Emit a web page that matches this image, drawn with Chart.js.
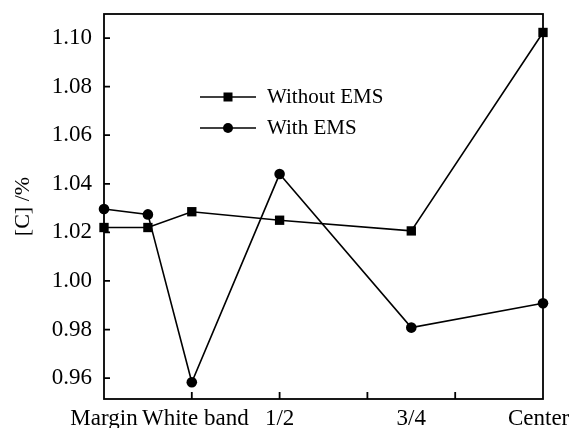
<!DOCTYPE html>
<html>
<head>
<meta charset="utf-8">
<script src="https://cdn.jsdelivr.net/npm/chart.js@4.4.1/dist/chart.umd.min.js"></script>
<style>
    html, body { margin: 0; padding: 0; background: #fff; }
    #wrap { width: 572px; height: 428px; }
</style>
</head>
<body>
<div id="wrap"><canvas id="chart"></canvas></div>
<script>
// Data
const positions = [0, 0.5, 1, 2, 3.5, 5];
const withoutEMS = [1.022, 1.022, 1.0285, 1.025, 1.0206, 1.1023];
const withEMS = [1.0296, 1.0274, 0.9583, 1.044, 0.9808, 0.9908];
const xLabelPositions = [0, 1.04, 2, 3.5, 4.95];
const xLabels = ['Margin', 'White band', '1/2', '3/4', 'Center'];
const xTickMarks = [1, 2, 3, 4];
const yTicks = [0.96, 0.98, 1.00, 1.02, 1.04, 1.06, 1.08, 1.10];

const FONT = { family: '"Liberation Serif", "Times New Roman", serif', size: 21 };
const TICK_FONT = { family: FONT.family, size: 23 };
const TITLE_FONT = { family: FONT.family, size: 22 };

function toPoints(values) {
    return values.map((v, i) => ({ x: positions[i], y: v }));
}

// frame, inward ticks and legend drawn on top
const framePlugin = {
    id: 'frame',
    afterDraw(chart) {
        const { ctx, chartArea: a, scales } = chart;
        ctx.save();
        ctx.strokeStyle = '#000';
        ctx.lineWidth = 1.8;
        ctx.strokeRect(a.left, a.top, a.right - a.left, a.bottom - a.top);

        ctx.beginPath();
        yTicks.forEach(v => {
            const y = scales.y.getPixelForValue(v);
            ctx.moveTo(a.left, y);
            ctx.lineTo(a.left + 6, y);
        });
        xTickMarks.forEach(v => {
            const x = scales.x.getPixelForValue(v);
            ctx.moveTo(x, a.bottom);
            ctx.lineTo(x, a.bottom - 7);
        });
        ctx.stroke();

        // legend
        const lx = 200, lw = 56, ly = 97, gap = 31;
        ctx.font = FONT.size + 'px ' + FONT.family;
        ctx.fillStyle = '#000';
        ctx.textBaseline = 'middle';
        chart.data.datasets.forEach((ds, i) => {
            const y = ly + i * gap;
            ctx.beginPath();
            ctx.lineWidth = 1.6;
            ctx.moveTo(lx, y);
            ctx.lineTo(lx + lw, y);
            ctx.stroke();
            const cx = lx + lw / 2;
            ctx.beginPath();
            if (ds.pointStyle === 'rect') {
                ctx.fillRect(cx - 4.5, y - 4.5, 9, 9);
            } else {
                ctx.arc(cx, y, 5, 0, Math.PI * 2);
                ctx.fill();
            }
            ctx.fillText(ds.label, lx + lw + 11, y);
        });
        ctx.restore();
    }
};

const ctx = document.getElementById('chart').getContext('2d');
new Chart(ctx, {
    type: 'line',
    data: {
        datasets: [
            {
                label: 'Without EMS',
                data: toPoints(withoutEMS),
                borderColor: '#000',
                backgroundColor: '#000',
                borderWidth: 1.6,
                pointStyle: 'rect',
                pointRadius: 6.6,
                pointBorderWidth: 0,
                tension: 0,
                clip: false
            },
            {
                label: 'With EMS',
                data: toPoints(withEMS),
                borderColor: '#000',
                backgroundColor: '#000',
                borderWidth: 1.6,
                pointStyle: 'circle',
                pointRadius: 5.3,
                pointBorderWidth: 0,
                tension: 0,
                clip: false
            }
        ]
    },
    options: {
        responsive: true,
        maintainAspectRatio: false,
        animation: false,
        layout: { padding: { left: 0, top: 14, right: 29, bottom: 0 } },
        plugins: {
            legend: { display: false },
            tooltip: { enabled: false }
        },
        scales: {
            x: {
                type: 'linear',
                min: 0,
                max: 5,
                grid: { display: false, drawTicks: false },
                border: { display: false },
                afterBuildTicks: scale => {
                    scale.ticks = xLabelPositions.map(v => ({ value: v }));
                },
                afterFit: scale => {
                    scale.height = 29;
                    scale.paddingLeft = 0;
                    scale.paddingRight = 0;
                },
                ticks: {
                    color: '#000',
                    font: TICK_FONT,
                    padding: 6,
                    autoSkip: false,
                    maxRotation: 0,
                    callback: value => {
                        const i = xLabelPositions.indexOf(value);
                        return i >= 0 ? xLabels[i] : '';
                    }
                }
            },
            y: {
                min: 0.9514,
                max: 1.1099,
                grid: { display: false, drawTicks: false },
                border: { display: false },
                afterBuildTicks: scale => {
                    scale.ticks = yTicks.map(v => ({ value: v }));
                },
                afterFit: scale => {
                    scale.width = 104;
                    scale.paddingTop = 0;
                    scale.paddingBottom = 0;
                },
                title: {
                    display: true,
                    text: '[C] /%',
                    color: '#000',
                    font: TITLE_FONT,
                    padding: { top: 10 }
                },
                ticks: {
                    color: '#000',
                    font: TICK_FONT,
                    padding: 12,
                    callback: value => value.toFixed(2)
                }
            }
        }
    },
    plugins: [framePlugin]
});
</script>
</body>
</html>
